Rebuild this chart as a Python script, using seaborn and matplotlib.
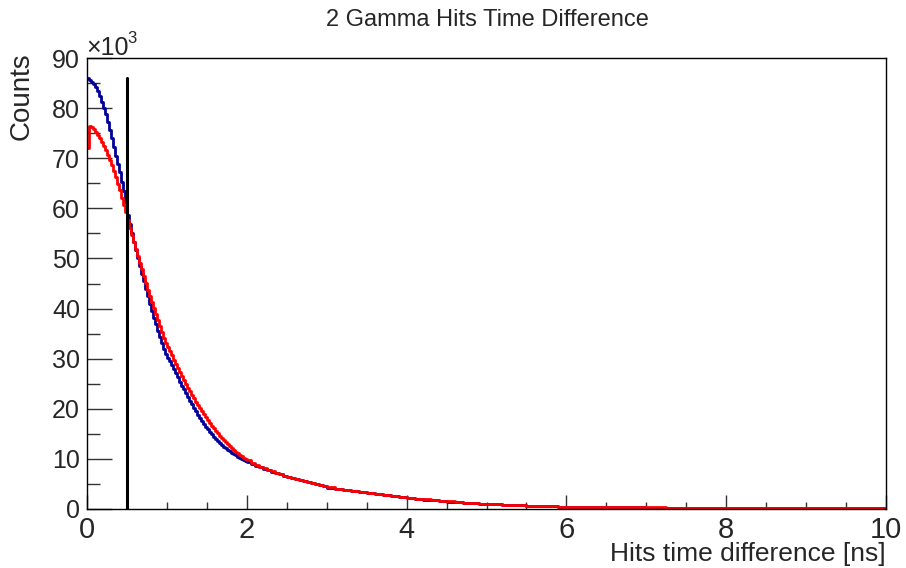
import numpy as np
import pandas as pd
import matplotlib
matplotlib.use("Agg")
import matplotlib.pyplot as plt
import seaborn as sns
from matplotlib.ticker import MultipleLocator

# ---------------- data (counts in units of 10^3) ----------------
# bin edges: 0-2 ns (0.025), 2-3 ns (0.05), 3-6 ns (0.1), 6-10 ns (0.25)
edges_a = np.linspace(0.0, 2.0, 81)[:-1]
edges_b = np.linspace(2.0, 3.0, 21)[:-1]
edges_c = np.linspace(3.0, 6.0, 31)[:-1]
edges_d = np.linspace(6.0, 10.0, 17)
bin_edges = np.concatenate([edges_a, edges_b, edges_c, edges_d])

blue_0_1 = [86.0, 85.7, 85.3, 84.9, 84.3, 83.4, 82.5, 81.3, 80.0, 78.8,
            77.2, 75.6, 74.0, 72.2, 70.4, 68.8, 67.2, 65.2, 63.4, 61.3,
            58.6, 56.9, 55.0, 53.2, 51.6, 50.0, 48.4, 46.9, 45.4, 43.9,
            42.5, 41.0, 39.5, 38.2, 36.9, 35.6, 34.3, 33.1, 32.0, 30.9]
blue_1_2 = [30.2, 29.5, 28.7, 27.9, 27.1, 26.3, 25.4, 24.6, 23.9, 23.1,
            22.3, 21.6, 20.9, 20.2, 19.5, 18.8, 18.1, 17.5, 16.9, 16.4,
            15.9, 15.4, 14.9, 14.4, 14.0, 13.5, 13.1, 12.7, 12.4, 12.1,
            11.8, 11.5, 11.2, 10.9, 10.7, 10.4, 10.2, 9.9, 9.7, 9.5]
blue_2_3 = [9.3, 9.0, 8.6, 8.3, 8.0, 7.7, 7.4, 7.1, 6.9, 6.6,
            6.4, 6.1, 5.9, 5.7, 5.5, 5.3, 5.1, 4.9, 4.7, 4.5]
blue_3_6 = [4.25, 3.95, 3.75, 3.5, 3.3, 3.1, 2.9, 2.7, 2.5, 2.35,
            2.15, 2.0, 1.85, 1.72, 1.58, 1.47, 1.35, 1.25, 1.15, 1.06,
            0.98, 0.9, 0.83, 0.77, 0.71, 0.65, 0.6, 0.55, 0.51, 0.47]
blue_6_10 = [0.43, 0.39, 0.35, 0.32, 0.29, 0.26, 0.24, 0.22,
             0.20, 0.18, 0.17, 0.15, 0.14, 0.13, 0.12, 0.11]

red_0_1 = [72.0, 76.4, 76.3, 75.9, 75.3, 74.6, 74.0, 73.2, 72.5, 71.6,
           70.6, 69.6, 68.6, 67.4, 66.2, 64.9, 63.6, 62.1, 60.6, 59.2,
           57.6, 56.0, 54.6, 53.2, 51.8, 50.5, 49.1, 47.8, 46.5, 45.1,
           43.8, 42.6, 41.3, 40.1, 38.9, 37.7, 36.5, 35.3, 34.2, 33.1]
red_1_2 = [32.4, 31.5, 30.7, 29.8, 29.0, 28.1, 27.3, 26.5, 25.7, 24.9,
           24.2, 23.5, 22.8, 22.1, 21.4, 20.7, 20.1, 19.5, 18.9, 18.3,
           17.7, 17.2, 16.6, 16.1, 15.6, 15.1, 14.6, 14.2, 13.7, 13.3,
           12.9, 12.5, 12.1, 11.8, 11.4, 11.1, 10.8, 10.5, 10.2, 9.95]
red_2_3 = [9.7, 9.2, 8.8, 8.4, 8.1, 7.8, 7.5, 7.2, 6.9, 6.6,
           6.4, 6.1, 5.9, 5.7, 5.5, 5.3, 5.1, 4.9, 4.7, 4.5]
red_3_6 = [4.35, 4.05, 3.82, 3.58, 3.38, 3.17, 2.97, 2.77, 2.58, 2.42,
           2.22, 2.07, 1.92, 1.77, 1.62, 1.51, 1.39, 1.28, 1.18, 1.09,
           1.01, 0.93, 0.86, 0.79, 0.73, 0.67, 0.62, 0.57, 0.53, 0.49]
red_6_10 = [0.45, 0.41, 0.37, 0.34, 0.31, 0.28, 0.26, 0.24,
            0.22, 0.20, 0.18, 0.17, 0.15, 0.14, 0.13, 0.12]

blue_counts = blue_0_1 + blue_1_2 + blue_2_3 + blue_3_6 + blue_6_10
red_counts = red_0_1 + red_1_2 + red_2_3 + red_3_6 + red_6_10

cut_value = 0.5
cut_height = 86.0

title = "2 Gamma Hits Time Difference"
x_label = "Hits time difference [ns]"
y_label = "Counts"

# ---------------- plotting ----------------
sns.set_style("white")
plt.rcParams["font.family"] = ["Liberation Sans", "DejaVu Sans"]

W, H = 906, 568
fig = plt.figure(figsize=(W / 100, H / 100), dpi=100)
ax = fig.add_axes([87 / W, (H - 509) / H, (886 - 87) / W, (509 - 58) / H])

centers = 0.5 * (bin_edges[:-1] + bin_edges[1:])
df_blue = pd.DataFrame({"t": centers, "w": blue_counts})
df_red = pd.DataFrame({"t": centers, "w": red_counts})
edges_list = [float(e) for e in bin_edges]

sns.histplot(data=df_blue, x="t", weights="w", bins=edges_list, element="step",
             fill=False, color="#000099", linewidth=2.0, ax=ax)
sns.histplot(data=df_red, x="t", weights="w", bins=edges_list, element="step",
             fill=False, color="#ff0000", linewidth=2.0, ax=ax)
ax.plot([cut_value, cut_value], [0, cut_height], color="black", lw=2.2, zorder=5)

ax.set_xlim(0, 10)
ax.set_ylim(0, 90)
ax.set_xlabel("")
ax.set_ylabel("")
ax.xaxis.set_major_locator(MultipleLocator(2))
ax.xaxis.set_minor_locator(MultipleLocator(0.5))
ax.yaxis.set_major_locator(MultipleLocator(10))
ax.yaxis.set_minor_locator(MultipleLocator(5))
ax.tick_params(axis="x", which="major", direction="in", length=10, width=1,
               labelsize=21, pad=5, top=False, bottom=True, color="#333333")
ax.tick_params(axis="x", which="minor", direction="in", length=5, width=1,
               top=False, bottom=True, color="#333333")
ax.tick_params(axis="y", which="major", direction="in", length=18, width=1,
               labelsize=18, pad=5, right=False, left=True, color="#333333")
ax.tick_params(axis="y", which="minor", direction="in", length=9.5, width=1,
               right=False, left=True, color="#333333")
for s in ax.spines.values():
    s.set_color("black")
    s.set_linewidth(1.0)

fig.text(487 / W, 1 - 20 / H, title, ha="center", va="center", fontsize=17)
fig.text(886 / W, 1 - 554 / H, x_label, ha="right", va="center", fontsize=19)
fig.text(22 / W, 1 - 96 / H, y_label, ha="center", va="center",
         rotation=90, fontsize=20)
fig.text(86 / W, 1 - 55 / H, "\u00d710", ha="left", va="baseline", fontsize=18)
fig.text(127 / W, 1 - 43 / H, "3", ha="left", va="baseline", fontsize=12)

fig.savefig("out.png", dpi=100)
